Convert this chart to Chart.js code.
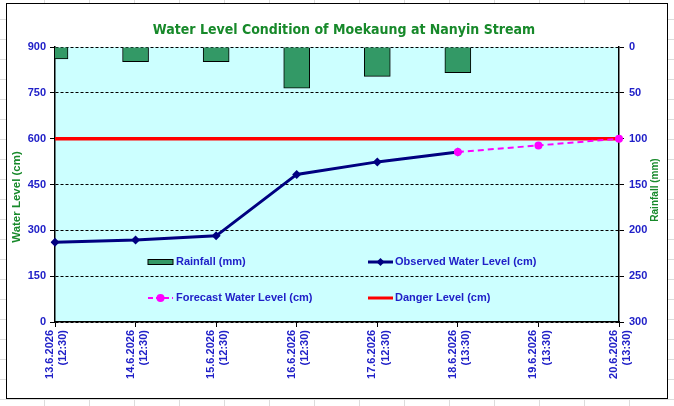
<!DOCTYPE html>
<html>
<head>
<meta charset="utf-8">
<script src="https://cdn.jsdelivr.net/npm/chart.js@4"></script>
<style>
  html, body { margin: 0; padding: 0; }
  body {
    width: 674px; height: 406px; position: relative; overflow: hidden;
    background-color: #fff;
    background-image:
      repeating-linear-gradient(to right, transparent 0 44px, #dcdcdc 44px 45px),
      repeating-linear-gradient(to bottom, transparent 0 19px, #dcdcdc 19px 20px);
  }
  .frame {
    position: absolute; left: 6px; top: 3px; width: 660px; height: 394px;
    background: #fff; border: 1.5px solid #000;
  }
  canvas { position: absolute; left: 0; top: 0; }
</style>
</head>
<body>
<div class="frame"></div>
<canvas class="jsWaterLevelChart" width="674" height="406"></canvas>
<script>
'use strict';

let dates = [
  ['13.6.2026', '(12:30)'], ['14.6.2026', '(12:30)'], ['15.6.2026', '(12:30)'],
  ['16.6.2026', '(12:30)'], ['17.6.2026', '(12:30)'], ['18.6.2026', '(13:30)'],
  ['19.6.2026', '(13:30)'], ['20.6.2026', '(13:30)']
];
let rainfall = [13, 16, 16, 45, 32, 28, null, null];
let observedLevel = [261, 268, 282, 483, 524, 556, null, null];
let forecastLevel = [null, null, null, null, null, 556, 578, 600];
let dangerLevel = [600, 600, 600, 600, 600, 600, 600, 600];

let levelTicks = [0, 150, 300, 450, 600, 750, 900];
let rainTicks = [0, 50, 100, 150, 200, 250, 300];

const TITLE = 'Water Level Condition of Moekaung at Nanyin Stream';
const BLUE = '#2020c8';
const GREEN = '#17892a';
const tickFont = {family: 'Liberation Sans', size: 11, weight: 'bold'};

const plotBackground = {
  id: 'plotBackground',
  beforeDraw(chart) {
    let {ctx, chartArea: a} = chart;
    ctx.save();
    ctx.fillStyle = '#ccffff';
    ctx.fillRect(a.left, a.top, a.right - a.left, a.bottom - a.top);
    ctx.restore();
  }
};

// legend sits inside the plot, two rows of two, like the spreadsheet one
const insideLegend = {
  id: 'insideLegend',
  afterDraw(chart) {
    let {ctx, chartArea: a} = chart;
    let col1 = a.left + 93, col2 = a.left + 313;
    let row1 = a.top + 215, row2 = a.top + 251;

    ctx.save();
    ctx.font = 'bold 11px "Liberation Sans"';
    ctx.textBaseline = 'middle';
    ctx.fillStyle = BLUE;
    ctx.fillText('Rainfall (mm)', col1 + 28, row1);
    ctx.fillText('Observed Water Level (cm)', col2 + 27, row1);
    ctx.fillText('Forecast Water Level (cm)', col1 + 28, row2);
    ctx.fillText('Danger Level (cm)', col2 + 27, row2);

    ctx.fillStyle = '#339966';
    ctx.strokeStyle = '#000';
    ctx.lineWidth = 1;
    ctx.fillRect(col1, row1 - 2.5, 25, 5);
    ctx.strokeRect(col1, row1 - 2.5, 25, 5);

    ctx.strokeStyle = '#000080';
    ctx.lineWidth = 3;
    ctx.beginPath(); ctx.moveTo(col2, row1); ctx.lineTo(col2 + 25, row1); ctx.stroke();
    ctx.fillStyle = '#000080';
    ctx.beginPath();
    ctx.moveTo(col2 + 12.5, row1 - 4); ctx.lineTo(col2 + 16.5, row1);
    ctx.lineTo(col2 + 12.5, row1 + 4); ctx.lineTo(col2 + 8.5, row1);
    ctx.closePath(); ctx.fill();

    ctx.strokeStyle = '#ff00ff';
    ctx.lineWidth = 2;
    ctx.setLineDash([5, 3]);
    ctx.beginPath(); ctx.moveTo(col1, row2); ctx.lineTo(col1 + 25, row2); ctx.stroke();
    ctx.setLineDash([]);
    ctx.fillStyle = '#ff00ff';
    ctx.beginPath(); ctx.arc(col1 + 12.5, row2, 4, 0, Math.PI * 2); ctx.fill();

    ctx.strokeStyle = '#ff0000';
    ctx.lineWidth = 3;
    ctx.beginPath(); ctx.moveTo(col2, row2); ctx.lineTo(col2 + 25, row2); ctx.stroke();

    // chart title
    ctx.fillStyle = GREEN;
    ctx.textAlign = 'center';
    ctx.font = 'bold 14px "DejaVu Sans Condensed"';
    ctx.fillText(TITLE, 344, 30);

    // axis titles
    ctx.font = 'bold 11.5px "Liberation Sans"';
    ctx.translate(17, 197);
    ctx.rotate(-Math.PI / 2);
    ctx.fillText('Water Level (cm)', 0, 0);
    ctx.setTransform(1, 0, 0, 1, 0, 0);
    ctx.font = 'bold 10px "Liberation Sans"';
    ctx.translate(655, 190);
    ctx.rotate(-Math.PI / 2);
    ctx.fillText('Rainfall (mm)', 0, 0);
    ctx.restore();
  }
};

function buildWaterLevelChart() {
  let ctx = document.querySelector('.jsWaterLevelChart');

  new Chart(ctx, {
    type: 'bar',
    data: {
      labels: dates,
      datasets: [{
        type: 'line',
        label: 'Forecast Water Level (cm)',
        data: forecastLevel,
        yAxisID: 'y',
        borderColor: '#ff00ff',
        backgroundColor: '#ff00ff',
        borderWidth: 2,
        borderDash: [6, 4],
        pointStyle: 'circle',
        pointRadius: 4,
        pointBorderWidth: 0,
        spanGaps: false,
        order: 1
      }, {
        type: 'line',
        label: 'Observed Water Level (cm)',
        data: observedLevel,
        yAxisID: 'y',
        borderColor: '#000080',
        backgroundColor: '#000080',
        borderWidth: 3,
        pointStyle: 'rectRot',
        pointRadius: 4.5,
        pointBorderWidth: 0,
        order: 2
      }, {
        type: 'line',
        label: 'Danger Level (cm)',
        data: dangerLevel,
        yAxisID: 'y',
        borderColor: '#ff0000',
        borderWidth: 3.5,
        pointRadius: 0,
        order: 3
      }, {
        type: 'bar',
        label: 'Rainfall (mm)',
        data: rainfall,
        yAxisID: 'y2',
        backgroundColor: '#339966',
        borderColor: '#000',
        borderWidth: 1,
        barThickness: 26,
        order: 4
      }]
    },
    options: {
      responsive: false,
      animation: false,
      layout: {padding: {left: 0, right: 0, top: 47, bottom: 0}},
      plugins: {
        legend: {display: false},
        tooltip: {enabled: false},
        title: {display: false}
      },
      scales: {
        x: {
          type: 'category',
          offset: false,
          grid: {offset: false, drawOnChartArea: false, color: '#000', tickLength: 5},
          border: {color: '#000', width: 1.5},
          ticks: {
            color: BLUE, font: tickFont, minRotation: 90, maxRotation: 90,
            autoSkip: false, padding: 3, labelOffset: -5
          },
          afterFit(scale) { scale.height = 84; }
        },
        y: {
          position: 'left',
          min: 0,
          max: 900,
          afterBuildTicks(scale) { scale.ticks = levelTicks.map(v => ({value: v})); },
          grid: {color: '#000', lineWidth: 1, tickLength: 5},
          border: {color: '#000', width: 1.5, dash: [3, 2]},
          ticks: {color: BLUE, font: tickFont, padding: 4},
          afterFit(scale) { scale.width = 55; }
        },
        y2: {
          position: 'right',
          reverse: true,
          min: 0,
          max: 300,
          afterBuildTicks(scale) { scale.ticks = rainTicks.map(v => ({value: v})); },
          grid: {drawOnChartArea: false, color: '#000', tickLength: 5},
          border: {color: '#000', width: 1.5},
          ticks: {color: BLUE, font: tickFont, padding: 5},
          afterFit(scale) { scale.width = 55; }
        }
      }
    },
    plugins: [plotBackground, insideLegend]
  });
}

buildWaterLevelChart();
</script>
</body>
</html>
